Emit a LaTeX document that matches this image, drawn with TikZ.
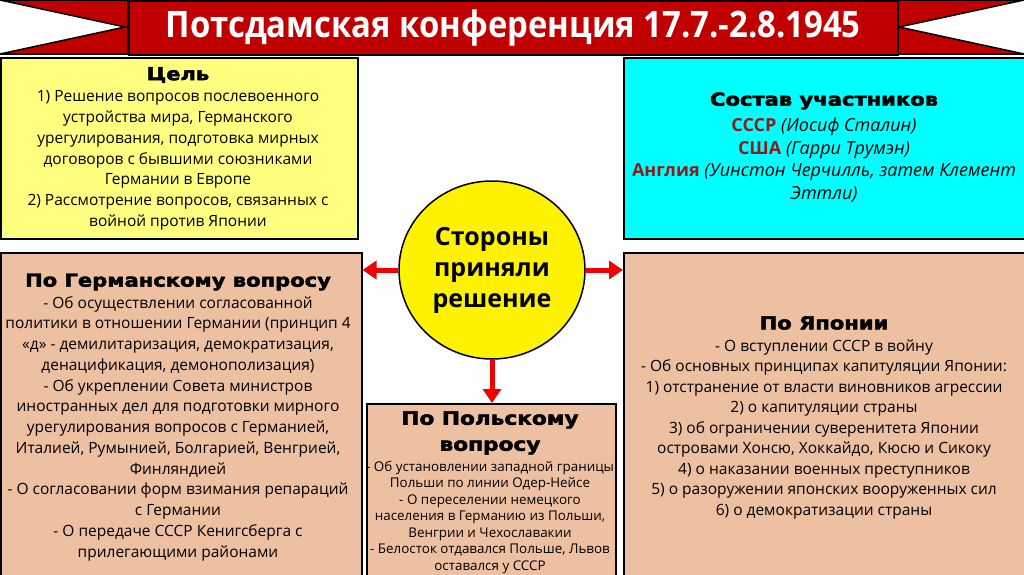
\documentclass[tikz,border=0pt]{standalone}
\usepackage{fontspec}
\setmainfont{Open Sans}
\newfontfamily\headfont[FakeBold=2.5,FakeStretch=1.17]{DejaVu Sans Bold}
\newfontfamily\titlefont[FakeStretch=0.9]{Open Sans}
\usetikzlibrary{positioning,arrows.meta,shapes.geometric}
\definecolor{titlered}{RGB}{192,0,0}
\definecolor{goalyellow}{RGB}{255,255,128}
\definecolor{partcyan}{RGB}{0,255,255}
\definecolor{peach}{RGB}{238,192,162}
\definecolor{namered}{RGB}{140,28,28}
\definecolor{arrowred}{RGB}{240,0,0}

\begin{document}
\begin{tikzpicture}
[x=1pt,y=-1pt,
box/.style={draw=black, line width=1.5pt, anchor=north west, inner sep=0pt},
body/.style={align=center, inner sep=0pt, font=\fontsize{15.5}{20.8}\selectfont},
head/.style={align=center, inner sep=0pt, font=\headfont\fontsize{18}{26}\selectfont},
arr/.style={draw=arrowred, line width=5pt, -{Triangle[length=14pt,width=18pt]}}]
\useasboundingbox[fill=white] (0,0) rectangle (1024,574);

\fill[titlered, draw=black, line width=1.5pt] (0,0) -- (128,0) -- (128,54) -- (0,54) -- (125,27) -- cycle;
\fill[titlered, draw=black, line width=1.5pt] (1024,0) -- (897,0) -- (897,54) -- (1024,54) -- (899,27) -- cycle;
\node[box, fill=titlered, minimum width=769pt, minimum height=54pt, text=white,
      font=\titlefont\bfseries\fontsize{36.5}{40}\selectfont] (banner) at (128,0)
      {Потсдамская конференция 17.7.-2.8.1945};

\node[box, fill=goalyellow, minimum width=357pt, minimum height=181pt] (goal) at (0,57) {};
\node[box, fill=partcyan, minimum width=402pt, minimum height=181pt] (members) at (623,57) {};
\node[box, fill=peach, minimum width=361pt, minimum height=330pt] (german) at (0,252) {};
\node[box, fill=peach, minimum width=402pt, minimum height=330pt] (japan) at (623,252) {};
\node[box, fill=peach, minimum width=249pt, minimum height=180pt] (poland) at (366,403) {};

\node[head] (goalhead) at (178,75) {Цель};
\node[body] (goaltext) at (178,160.5) {1) Решение вопросов послевоенного\\
устройства мира, Германского\\
урегулирования, подготовка мирных\\
договоров с бывшими союзниками\\
Германии в Европе\\
2) Рассмотрение вопросов, связанных с\\
войной против Японии};

\node[head] (membershead) at (824,101) {Состав участников};
\node[body, font=\itshape\fontsize{18}{22.7}\selectfont] (memberstext) at (824,160)
{{\upshape\bfseries\color{namered}СССР} (Иосиф Сталин)\\
{\upshape\bfseries\color{namered}США} (Гарри Трумэн)\\
{\upshape\bfseries\color{namered}Англия} (Уинстон Черчилль, затем Клемент\\
Эттли)};

\node[head] (germanhead) at (178,282) {По Германскому вопросу};
\node[body, font=\fontsize{15.5}{20.75}\selectfont] (germantext) at (178,428.5)
{- Об осуществлении согласованной\\
политики в отношении Германии (принцип 4\\
«д» - демилитаризация, демократизация,\\
денацификация, демонополизация)\\
- Об укреплении Совета министров\\
иностранных дел для подготовки мирного\\
урегулирования вопросов с Германией,\\
Италией, Румынией, Болгарией, Венгрией,\\
Финляндией\\
- О согласовании форм взимания репараций\\
с Германии\\
- О передаче СССР Кенигсберга с\\
прилегающими районами};

\node[head] (japanhead) at (824,323) {По Японии};
\node[body, font=\fontsize{15.5}{20.5}\selectfont] (japantext) at (824,429)
{- О вступлении СССР в войну\\
- Об основных принципах капитуляции Японии:\\
1) отстранение от власти виновников агрессии\\
2) о капитуляции страны\\
3) об ограничении суверенитета Японии\\
островами Хонсю, Хоккайдо, Кюсю и Сикоку\\
4) о наказании военных преступников\\
5) о разоружении японских вооруженных сил\\
6) о демократизации страны};

\node[head, font=\headfont\fontsize{18.5}{26}\selectfont] (polandhead) at (490,433) {По Польскому\\вопросу};
\node[body, font=\fontsize{13.4}{16.5}\selectfont] (polandtext) at (490,517)
{- Об установлении западной границы\\
Польши по линии Одер-Нейсе\\
- О переселении немецкого\\
населения в Германию из Польши,\\
Венгрии и Чехославакии\\
- Белосток отдавался Польше, Львов\\
оставался у СССР};

\node[ellipse, draw=black, line width=1.5pt, fill=yellow, minimum width=186pt, minimum height=178pt,
      inner sep=0pt, align=center, font=\bfseries\fontsize{25}{31}\selectfont] (decision) at (492,270)
      {Стороны\\приняли\\решение};

\draw[arr] (decision.west) -- (decision.west -| german.east);
\draw[arr] (decision.east) -- (decision.east -| japan.west);
\draw[arr] (decision.south) -- (decision.south |- poland.north);
\end{tikzpicture}
\end{document}
